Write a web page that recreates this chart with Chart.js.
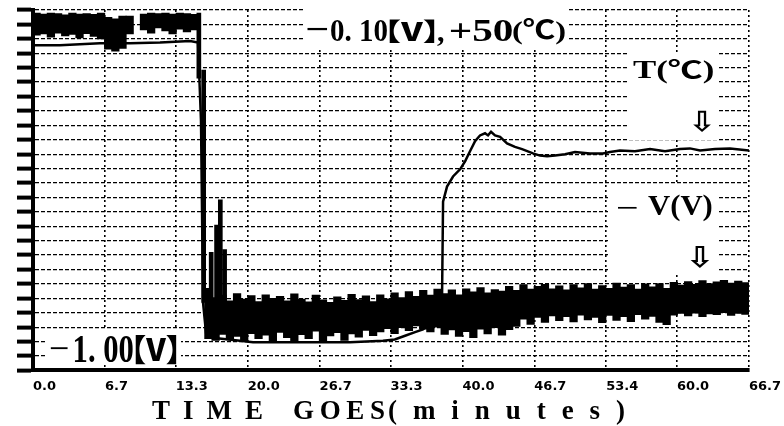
<!DOCTYPE html>
<html>
<head>
<meta charset="utf-8">
<script src="https://cdn.jsdelivr.net/npm/chart.js@4.4.1/dist/chart.umd.min.js"></script>
<style>
  html, body { margin: 0; padding: 0; background: #fff; }
  #wrap { width: 784px; height: 426px; }
</style>
</head>
<body>
<div id="wrap"><canvas id="chart" width="784" height="426"></canvas></div>
<script>
// x axis: time in minutes
const timeTicks = [0, 6.7, 13.3, 20.0, 26.7, 33.3, 40.0, 46.7, 53.4, 60.0, 66.7];
const tickLabels = ['0.0', '6.7', '13.3', '20.0', '26.7', '33.3', '40.0', '46.7', '53.4', '60.0', '66.7'];

// y axis: volts, 25 grid divisions from -1.00 V to -0.10 V
const vMin = -1.00;
const vMax = -0.10;
const vDivisions = 25;

// V(V) trace, read as min/max envelope per 0.667 min bin
const binStep = 0.667;
const vHigh = [
  -0.108, -0.110, -0.108, -0.109, -0.112, -0.108, -0.110, -0.109, -0.111, -0.108,
  -0.118, -0.122, -0.115, -0.115, null,   -0.110, -0.108, -0.109, -0.108, -0.110,
  -0.108, -0.109, -0.111, null,   -0.795, -0.818, -0.812, -0.826, -0.808, -0.822,
  -0.813, -0.828, -0.811, -0.820, -0.815, -0.826, -0.809, -0.822, -0.829, -0.812,
  -0.824, -0.830, -0.816, -0.825, -0.810, -0.823, -0.814, -0.828, -0.811, -0.821,
  -0.806, -0.818, -0.803, -0.815, -0.800, -0.812, -0.797, -0.808, -0.799, -0.811,
  -0.796, -0.804, -0.793, -0.806, -0.798, -0.802, -0.790, -0.800, -0.786, -0.797,
  -0.790, -0.785, -0.796, -0.789, -0.799, -0.786, -0.794, -0.783, -0.797, -0.788,
  -0.795, -0.782, -0.792, -0.786, -0.797, -0.784, -0.791, -0.783, -0.795, -0.780,
  -0.787, -0.778, -0.785, -0.776, -0.783, -0.779, -0.775, -0.782, -0.777, -0.781
];
const vLow = [
  -0.163, -0.160, -0.168, -0.158, -0.165, -0.161, -0.170, -0.159, -0.166, -0.172,
  -0.198, -0.203, -0.196, -0.160, null,   -0.150, -0.158, -0.145, -0.152, -0.160,
  -0.148, -0.155, -0.150, null,   -0.921, -0.925, -0.910, -0.924, -0.915, -0.926,
  -0.908, -0.921, -0.912, -0.927, -0.905, -0.918, -0.930, -0.911, -0.921, -0.902,
  -0.928, -0.914, -0.906, -0.925, -0.909, -0.917, -0.900, -0.913, -0.904, -0.896,
  -0.908, -0.893, -0.901, -0.889, -0.897, -0.904, -0.892, -0.910, -0.899, -0.915,
  -0.903, -0.918, -0.897, -0.909, -0.893, -0.912, -0.898, -0.890, -0.872, -0.885,
  -0.868, -0.880, -0.864, -0.876, -0.866, -0.879, -0.862, -0.874, -0.868, -0.881,
  -0.863, -0.875, -0.866, -0.878, -0.861, -0.872, -0.865, -0.880, -0.886, -0.862,
  -0.858, -0.864, -0.857, -0.866, -0.859, -0.861, -0.856, -0.863, -0.858, -0.860
];
const vTime = vHigh.map((_, i) => +(binStep * (i + 0.5)).toFixed(3));

// the drop and the thin spikes right after it
const spikeTime = [15.45, 15.9, 16.6, 17.1, 17.45, 17.85];
const spikeHigh = [-0.108, -0.250, -0.705, -0.637, -0.574, -0.698];
const spikeLow  = [-0.270, -0.830, -0.830, -0.830, -0.830, -0.830];

// T(°C) trace, on its own hidden axis (0..50 °C over the full height)
const tTime = [0, 2.5, 6.24, 9.04, 11.83, 14.63, 15.37, 15.65, 15.84, 16.12, 16.95, 19.28, 20.5,
  24.87, 29.53, 32.6, 33.7, 34.66, 35.59, 36.33, 37.17, 37.92, 38.1, 38.2, 38.57, 39.13, 39.78,
  40.25, 40.71, 41.18, 41.64, 42.11, 42.39, 42.67, 43.04, 43.51, 44.16, 44.9, 45.56, 46.58, 47.23,
  47.89, 48.63, 49.56, 50.49, 51.89, 53.1, 53.75, 54.68, 56.08, 57.48, 58.88, 60.27, 61.2, 62.14,
  63.54, 64.93, 66.7];
const tTemp = [45.1, 45.1, 45.4, 45.4, 45.5, 45.7, 45.5, 34.6, 9.4, 5.2, 4.5, 4.1, 3.9,
  3.9, 3.9, 4.1, 4.3, 4.8, 5.3, 5.7, 6.6, 7.7, 9.4, 23.4, 25.5, 26.9, 27.9,
  29.0, 30.4, 31.8, 32.6, 32.9, 32.6, 33.1, 32.6, 32.4, 31.5, 31.0, 30.7, 30.1, 29.8,
  29.7, 29.8, 30.0, 30.3, 30.1, 30.1, 30.3, 30.5, 30.4, 30.7, 30.4, 30.7, 30.8, 30.5,
  30.7, 30.8, 30.5];

const serif = '"Liberation Serif", "Noto Sans CJK JP", serif';
const cjk = '"Noto Sans CJK JP", sans-serif';

// draw text so that its ink box fills the given rectangle
function fitBox(ctx, text, font, x0, y0, x1, y1) {
  ctx.font = font;
  const m = ctx.measureText(text);
  const w = m.actualBoundingBoxLeft + m.actualBoundingBoxRight;
  const h = m.actualBoundingBoxAscent + m.actualBoundingBoxDescent;
  const sx = (x1 - x0) / w;
  const sy = (y1 - y0) / h;
  ctx.save();
  ctx.translate(x0 + m.actualBoundingBoxLeft * sx, y0 + m.actualBoundingBoxAscent * sy);
  ctx.scale(sx, sy);
  ctx.fillText(text, 0, 0);
  ctx.restore();
}

function spacedText(ctx, text, font, x0, x1, baseline) {
  ctx.font = font;
  ctx.letterSpacing = '0px';
  const w = ctx.measureText(text).width;
  const gap = (x1 - x0 - w) / (text.length - 1);
  ctx.letterSpacing = gap + 'px';
  ctx.fillText(text, x0, baseline);
  ctx.letterSpacing = '0px';
}

const notes = {
  id: 'notes',
  beforeDatasetsDraw(chart) {
    const ctx = chart.ctx;
    ctx.save();
    ctx.fillStyle = '#fff';
    [[303, 2, 264, 45], [628, 52, 90, 88], [608, 184, 110, 90], [45, 330, 136, 35]]
      .forEach(b => ctx.fillRect(b[0], b[1], b[2], b[3]));
    ctx.restore();
  },
  afterDraw(chart) {
    const ctx = chart.ctx;
    ctx.save();
    ctx.fillStyle = '#000';
    ctx.textAlign = 'left';
    ctx.textBaseline = 'alphabetic';

    // top label
    fitBox(ctx, '−', `30px ${serif}`, 307, 27, 328, 30);
    fitBox(ctx, '0. 10', `bold 30px ${serif}`, 331, 21, 387, 41);
    fitBox(ctx, '【V】', `900 30px ${cjk}`, 389, 19, 435, 43);
    fitBox(ctx, ',', `bold 30px ${serif}`, 437, 37, 444, 46);
    fitBox(ctx, '+50', `bold 30px ${serif}`, 450, 21, 512, 41);
    fitBox(ctx, '(℃)', `bold 30px ${serif}`, 513, 18, 565, 45);

    // T label and arrow
    fitBox(ctx, 'T(℃)', `bold 34px ${serif}`, 633, 59, 713, 84);
    fitBox(ctx, '⇩', 'bold 28px "DejaVu Sans"', 693, 110, 712, 132);

    // V label and arrow
    fitBox(ctx, '−', `34px ${serif}`, 617, 206, 637, 209);
    fitBox(ctx, 'V(V)', `bold 36px ${serif}`, 648, 194, 712, 221);
    fitBox(ctx, '⇩', 'bold 28px "DejaVu Sans"', 690, 245, 710, 268);

    // bottom label
    fitBox(ctx, '−', `38px ${serif}`, 50, 347, 68, 350);
    fitBox(ctx, '1. 00', `bold 38px ${serif}`, 75, 336, 133, 362);
    fitBox(ctx, '【V】', `900 38px ${cjk}`, 135, 334, 177, 364);

    // axis title
    const tf = `bold 27px ${serif}`;
    spacedText(ctx, 'TIME', tf, 152, 263, 419);
    spacedText(ctx, 'GOES', tf, 293, 385, 419);
    spacedText(ctx, '(minutes)', tf, 388, 625, 419);
    ctx.restore();
  }
};

new Chart(document.getElementById('chart'), {
  data: {
    datasets: [
      {
        type: 'bar',
        label: 'V(V)',
        data: vTime.map((t, i) => ({ x: t, y: [vLow[i], vHigh[i]] })).filter((d, i) => vHigh[i] !== null),
        backgroundColor: '#000',
        borderWidth: 0,
        barThickness: 7.6,
        grouped: false,
        yAxisID: 'y',
        order: 0
      },
      {
        type: 'bar',
        label: 'V spikes',
        data: spikeTime.map((t, i) => ({ x: t, y: [spikeLow[i], spikeHigh[i]] })),
        backgroundColor: '#000',
        borderWidth: 0,
        barThickness: 4,
        grouped: false,
        yAxisID: 'y',
        order: 0
      },
      {
        type: 'line',
        label: 'T(℃)',
        data: tTime.map((t, i) => ({ x: t, y: tTemp[i] })),
        borderColor: '#000',
        borderWidth: 2.5,
        pointRadius: 0,
        tension: 0,
        yAxisID: 'yT',
        order: 1
      }
    ]
  },
  options: {
    responsive: false,
    animation: false,
    devicePixelRatio: 1,
    layout: { padding: { left: 17, right: 0, top: 10, bottom: 24 } },
    plugins: { legend: { display: false }, tooltip: { enabled: false } },
    scales: {
      x: {
        type: 'linear',
        offset: false,
        min: 0,
        max: 66.7,
        afterBuildTicks: scale => { scale.ticks = timeTicks.map(v => ({ value: v })); },
        afterFit: scale => { scale.paddingRight = 35; },
        grid: { offset: false, color: '#000', lineWidth: 1.6, drawTicks: false },
        border: { display: true, color: '#000', width: 4, dash: [2, 3] },
        ticks: {
          align: 'start',
          padding: 8,
          color: '#000',
          autoSkip: false,
          maxRotation: 0,
          font: { family: 'DejaVu Sans', size: 13, weight: 'bold' },
          callback: (v, i) => tickLabels[i]
        }
      },
      y: {
        min: vMin,
        max: vMax,
        afterBuildTicks: scale => {
          scale.ticks = Array.from({ length: vDivisions + 1 }, (_, i) => ({ value: vMin + i * (vMax - vMin) / vDivisions }));
        },
        grid: { color: '#000', lineWidth: 1.2, tickLength: 16, tickWidth: 4, tickColor: '#000' },
        border: { display: true, color: '#000', width: 4, dash: [4, 2] },
        ticks: { display: false }
      },
      yT: { display: false, min: 0, max: 50 }
    }
  },
  plugins: [notes]
});
</script>
</body>
</html>
